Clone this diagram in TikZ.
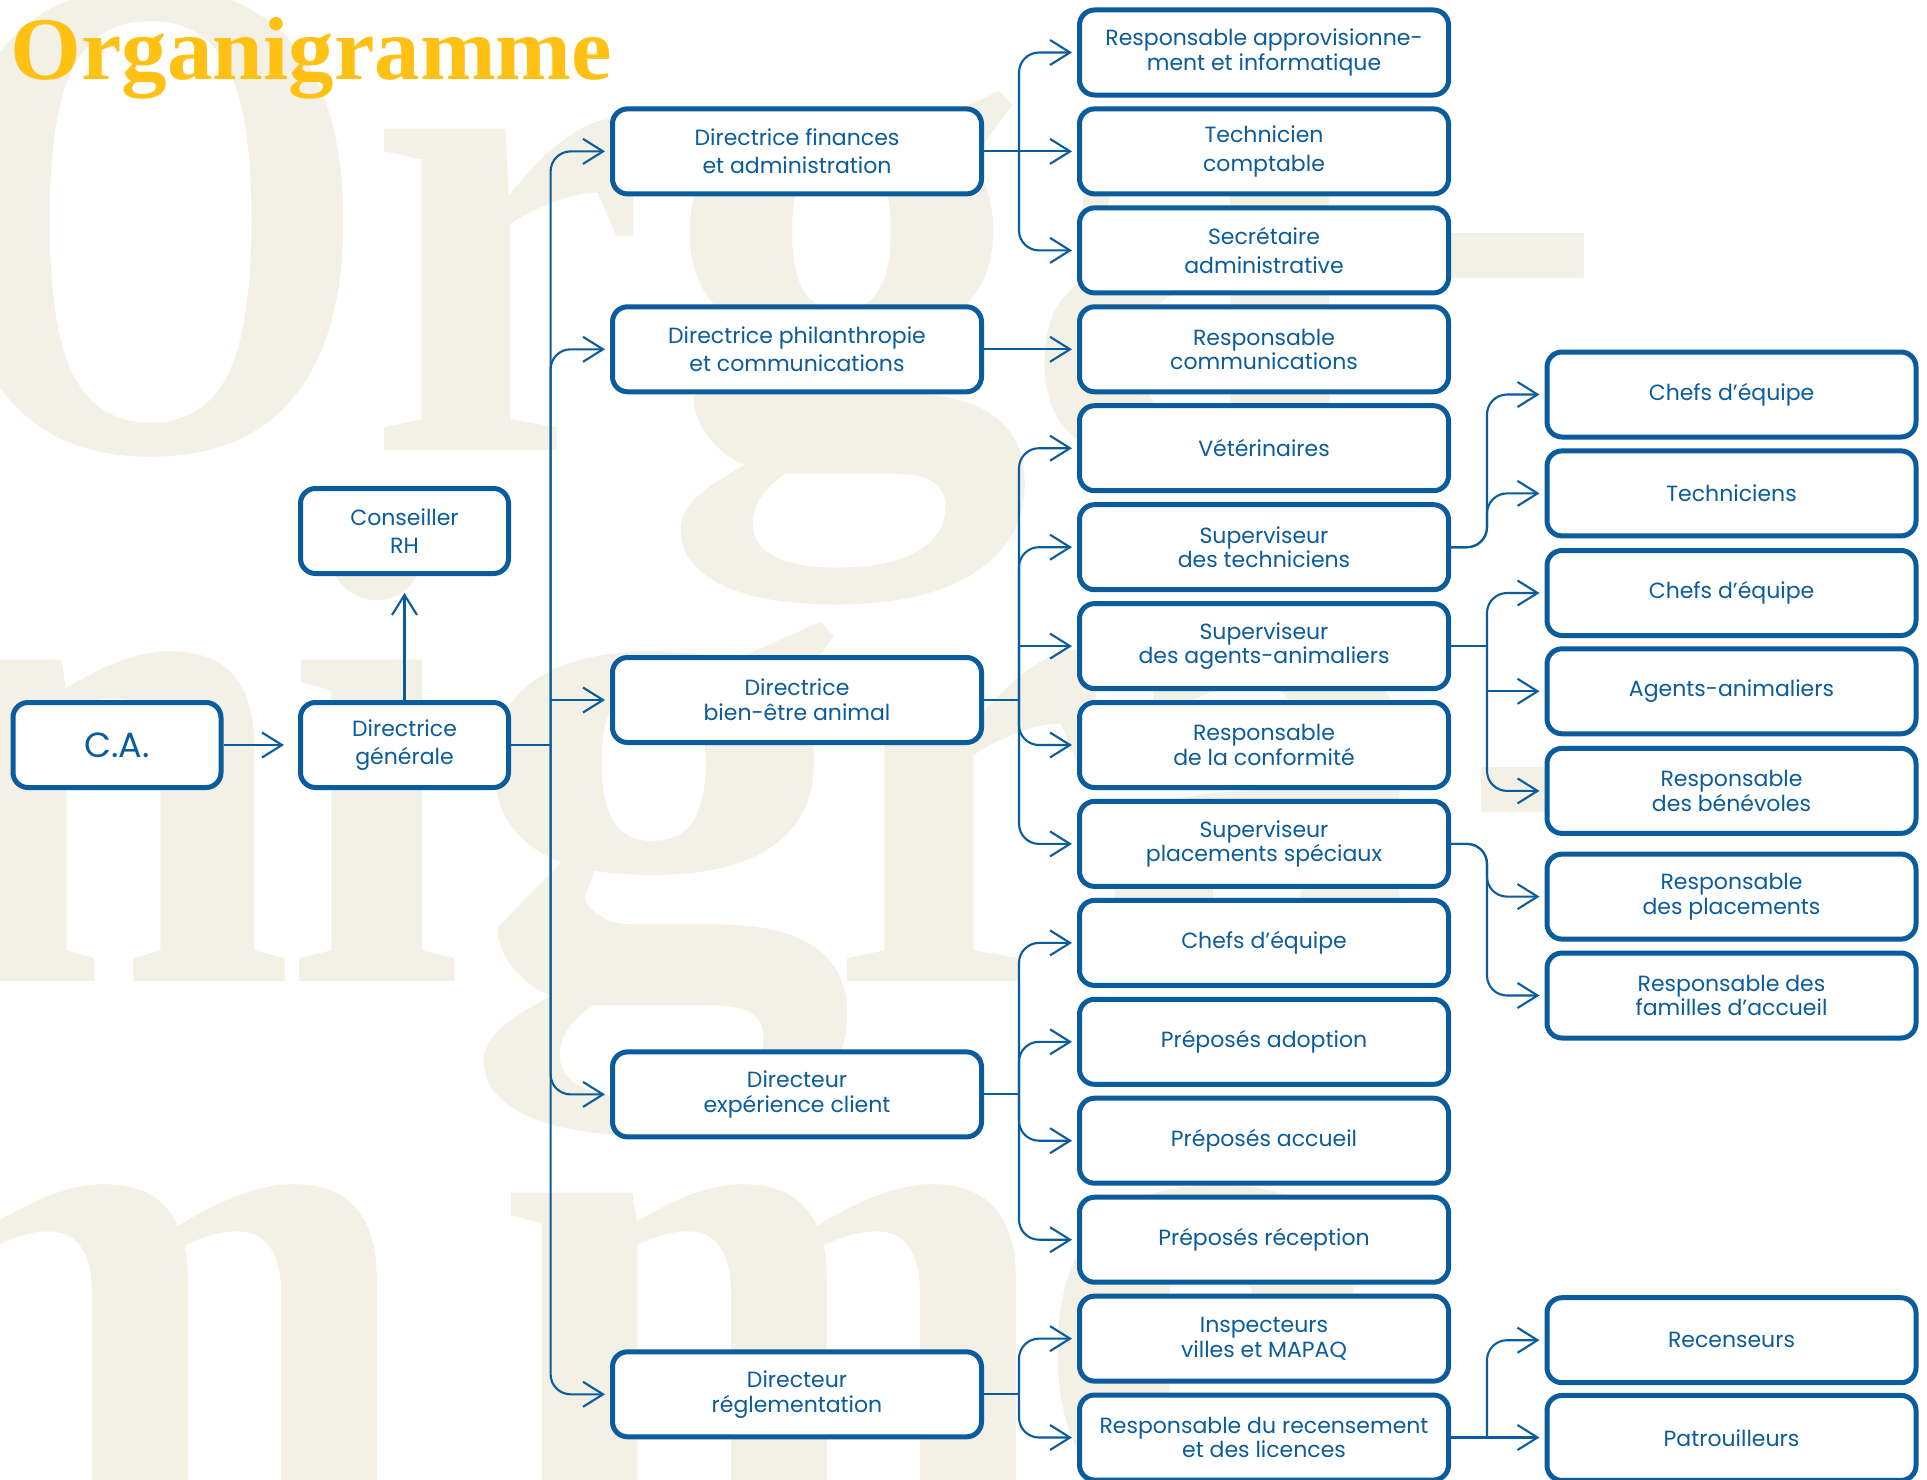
\documentclass[tikz,border=0pt]{standalone}
\usepackage{fontspec}
\usepackage{graphicx}
\setmainfont{Poppins}
\newfontfamily\wmfont{Liberation Serif Bold}
\usetikzlibrary{arrows.meta}
\definecolor{bleu}{RGB}{11,92,156}
\definecolor{beige}{RGB}{243,240,229}
\definecolor{jaune}{RGB}{255,193,20}
\newcommand\boxfont{\fontsize{22}{24.6}\selectfont}
\newcommand\boxfontw{\fontsize{22}{28.5}\selectfont}
\pgfdeclarelayer{wmk}
\pgfdeclarelayer{conn}
\pgfsetlayers{wmk,conn,main}
\tikzset{
  box/.style={draw=bleu, line width=5pt, fill=white, rounded corners=15pt,
    inner sep=0pt, align=center, text=bleu, font=\boxfont,
    minimum height=85pt, minimum width=369pt},
  smallbox/.style={minimum width=208pt},
  wide/.style={font=\boxfontw},
  line/.style={draw=bleu, line width=2.1pt},
  arr/.style={line, -{Straight Barb[length=20pt,width=25pt]}},
  rc/.style={rounded corners=20pt},
  wm/.style={inner sep=0pt, text=beige, anchor=base west,
    font=\wmfont\fontsize{700}{700}\selectfont},
}
\begin{document}
\begin{tikzpicture}[x=1pt,y=-1pt]
\useasboundingbox (0,0) rectangle (1927,1480);
\begin{pgfonlayer}{wmk}
\fill[white] (0,0) rectangle (1927,1480);
\begin{scope}
\clip (0,0) rectangle (1927,1480);
\node[wm] (w1) at (-70,450) {\scalebox{0.81}[1]{O}};
\node[wm] (w2) at (367,450) {\scalebox{0.9}[1]{r}};
\node[wm] (w3) at (661,450) {\scalebox{1.06}[1]{g}};
\node[wm] (w4) at (1022,450) {a};
\node[wm] (w5) at (1422,379) {\scalebox{0.78}[0.75]{-}};
\node[wm] (w6) at (-75,981) {\scalebox{0.95}[1]{n}};
\node[wm] (w7) at (285,981) {\scalebox{0.92}[1]{i}};
\node[wm] (w8) at (463,981) {\scalebox{1.12}[1]{g}};
\node[wm] (w9) at (830,981) {\scalebox{0.9}[1]{r}};
\node[wm] (w10) at (1092,981) {a};
\node[wm] (w11) at (1461,913) {\scalebox{0.78}[0.75]{-}};
\node[wm] (w12) at (-146,1514) {\scalebox{0.97}[1]{m}};
\node[wm] (w13) at (493,1514) {\scalebox{0.97}[1]{m}};
\node[wm] (w14) at (1031.6,1514) {\scalebox{1.11}[1]{e}};
\end{scope}
\end{pgfonlayer}
% title
\node[inner sep=0pt, anchor=base west, text=jaune,
  font=\wmfont\fontsize{90}{90}\selectfont] (title) at (10,80)
  {\resizebox{602pt}{62pt}{Organigramme}};
% boxes
\node[box, smallbox, font=\fontsize{35}{36}\selectfont] (ca) at (117,745) {C.A.};
\node[box, smallbox, wide] (dg) at (404.5,745) {Directrice\\générale};
\node[box, smallbox, wide] (rh) at (404.5,531) {Conseiller\\RH};
\node[box, wide] (fin) at (797,151.4) {Directrice finances\\et administration};
\node[box, wide] (phi) at (797,349.3) {Directrice philanthropie\\et communications};
\node[box] (bea) at (797,700) {Directrice\\bien-être animal};
\node[box] (exp) at (797,1094.4) {Directeur\\expérience client};
\node[box] (reg) at (797,1394.3) {Directeur\\réglementation};
\node[box] (r0) at (1264,52.5) {Responsable approvisionne-\\ment et informatique};
\node[box, wide] (r1) at (1264,151.4) {Technicien\\comptable};
\node[box, wide] (r2) at (1264,250.4) {Secrétaire\\administrative};
\node[box] (r3) at (1264,349.3) {Responsable\\communications};
\node[box] (r4) at (1264,448.2) {Vétérinaires};
\node[box] (r5) at (1264,547.2) {Superviseur\\des techniciens};
\node[box] (r6) at (1264,646.1) {Superviseur\\des agents-animaliers};
\node[box] (r7) at (1264,745.0) {Responsable\\de la conformité};
\node[box] (r8) at (1264,843.9) {Superviseur\\placements spéciaux};
\node[box] (r9) at (1264,942.9) {Chefs d’équipe};
\node[box] (r10) at (1264,1041.8) {Préposés adoption};
\node[box] (r11) at (1264,1140.7) {Préposés accueil};
\node[box] (r12) at (1264,1239.7) {Préposés réception};
\node[box] (r13) at (1264,1338.6) {Inspecteurs\\villes et MAPAQ};
\node[box] (r14) at (1264,1437.5) {Responsable du recensement\\et des licences};
\node[box] (q0) at (1731.5,394.5) {Chefs d’équipe};
\node[box] (q1) at (1731.5,493.4) {Techniciens};
\node[box] (q2) at (1731.5,593.0) {Chefs d’équipe};
\node[box] (q3) at (1731.5,691.3) {Agents-animaliers};
\node[box] (q4) at (1731.5,790.9) {Responsable\\des bénévoles};
\node[box] (q5) at (1731.5,896.6) {Responsable\\des placements};
\node[box] (q6) at (1731.5,995.5) {Responsable des\\familles d’accueil};
\node[box] (q7) at (1731.5,1340.2) {Recenseurs};
\node[box] (q8) at (1731.5,1437.9) {Patrouilleurs};
% junctions
\coordinate (j0) at (550.6,745);
\coordinate (jfin) at (1019,151.4);
\coordinate (jbea) at (1019,700);
\coordinate (jexp) at (1019,1094.4);
\coordinate (jreg) at (1019,1394.3);
\coordinate (jst) at (1487,547.2);
\coordinate (jsa) at (1487,646.1);
\coordinate (jsp) at (1487,843.9);
\coordinate (jrr) at (1487,1437.5);
\begin{pgfonlayer}{conn}
% left part
\draw[arr] (ca.east) -- ([xshift=-14pt]dg.west);
\draw[arr] (dg.north) -- ([yshift=-17pt]rh.south);
\draw[line] (dg.east) -- (j0);
\draw[arr, rc] (j0) |- ([xshift=-5pt]fin.west);
\draw[arr, rc] (j0) |- ([xshift=-5pt]phi.west);
\draw[arr] (j0 |- bea.west) -- ([xshift=-5pt]bea.west);
\draw[arr, rc] (j0) |- ([xshift=-5pt]exp.west);
\draw[arr, rc] (j0) |- ([xshift=-5pt]reg.west);
% finances
\draw[line] (fin.east) -- (jfin);
\draw[arr, rc] (jfin) |- ([xshift=-5pt]r0.west);
\draw[arr] (jfin) -- ([xshift=-5pt]r1.west);
\draw[arr, rc] (jfin) |- ([xshift=-5pt]r2.west);
% philanthropie
\draw[arr] (phi.east) -- ([xshift=-5pt]r3.west);
% bien-etre
\draw[line] (bea.east) -- (jbea);
\draw[arr, rc] (jbea) |- ([xshift=-5pt]r4.west);
\draw[arr, rc] (jbea) |- ([xshift=-5pt]r5.west);
\draw[arr] (jbea |- r6.west) -- ([xshift=-5pt]r6.west);
\draw[arr, rc] (jbea) |- ([xshift=-5pt]r7.west);
\draw[arr, rc] (jbea) |- ([xshift=-5pt]r8.west);
% experience
\draw[line] (exp.east) -- (jexp);
\draw[arr, rc] (jexp) |- ([xshift=-5pt]r9.west);
\draw[arr, rc] (jexp) |- ([xshift=-5pt]r10.west);
\draw[arr, rc] (jexp) |- ([xshift=-5pt]r11.west);
\draw[arr, rc] (jexp) |- ([xshift=-5pt]r12.west);
% reglementation
\draw[line] (reg.east) -- (jreg);
\draw[arr, rc] (jreg) |- ([xshift=-5pt]r13.west);
\draw[arr, rc] (jreg) |- ([xshift=-5pt]r14.west);
% superviseur techniciens
\draw[arr, rc] (r5.east) -- (jst) |- ([xshift=-5pt]q0.west);
\draw[arr, rc] (r5.east) -- (jst) |- ([xshift=-5pt]q1.west);
% superviseur agents
\draw[line] (r6.east) -- (jsa);
\draw[arr, rc] (jsa) |- ([xshift=-5pt]q2.west);
\draw[arr] (jsa |- q3.west) -- ([xshift=-5pt]q3.west);
\draw[arr, rc] (jsa) |- ([xshift=-5pt]q4.west);
% superviseur placements
\draw[arr, rc] (r8.east) -- (jsp) |- ([xshift=-5pt]q5.west);
\draw[arr, rc] (r8.east) -- (jsp) |- ([xshift=-5pt]q6.west);
% recensement
\draw[arr] (r14.east) -- ([xshift=-5pt]q8.west |- r14.east);
\draw[arr, rc] (jrr) |- ([xshift=-5pt]q7.west);
\end{pgfonlayer}
\end{tikzpicture}
\end{document}
